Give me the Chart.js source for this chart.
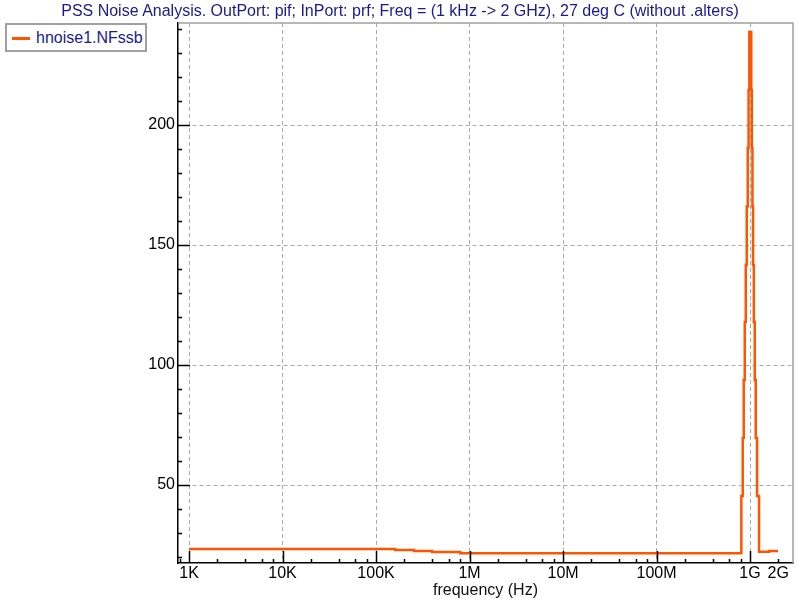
<!DOCTYPE html>
<html>
<head>
<meta charset="utf-8">
<script src="https://cdn.jsdelivr.net/npm/chart.js@4/dist/chart.umd.min.js"></script>
<style>
  body { margin: 0; background: #fff; }
  #wrap { position: relative; width: 800px; height: 600px; font-family: 'Liberation Sans', Arial, sans-serif; }
  #title { position: absolute; left: 0; top: 2px; width: 800px; text-align: center; font-size: 16px; color: #1a1a8c; }
  #legend { position: absolute; left: 5px; top: 23px; width: 138px; height: 25px; border: 2px solid #a0a0a0; background: #fff;
            font-size: 16px; color: #1a1a8c; line-height: 25px; }
  #legend span.swatch { position: absolute; left: 5px; top: 12px; width: 18px; height: 2.5px; background: #ff5500; }
  #legend span.label { position: absolute; left: 29px; top: 0; }
</style>
</head>
<body>
<div id="wrap">
  <canvas id="chart" width="800" height="600"></canvas>
  <div id="title">PSS Noise Analysis. OutPort: pif; InPort: prf; Freq = (1 kHz -&gt; 2 GHz), 27 deg C (without .alters)</div>
  <div id="legend"><span class="swatch"></span><span class="label">hnoise1.NFssb</span></div>
</div>
<script>
// Données (fréquence en Hz, NFssb)
const freqHz = [1e3, 160e3, 255e3, 398e3, 794e3, 807e6, 835e6, 856e6, 878e6, 900e6, 922e6, 945e6, 964e6, 983e6,
  1030e6, 1045e6, 1061e6, 1077e6, 1098e6, 1123e6, 1151e6, 1188e6, 1248e6, 1596e6, 1993e6];
const nfssb = [23.3, 22.9, 22.5, 22.1, 21.6, 45.4, 69.6, 93.8, 117.9, 141.7, 166.0, 190.4, 214.6, 238.8,
  214.6, 190.4, 166.0, 141.7, 117.9, 93.8, 69.6, 45.4, 22.2, 22.5, 22.5];

// Graduations
const xTickValues = [1e3, 1e4, 1e5, 1e6, 1e7, 1e8, 1e9, 2e9];
const xTickLabels = ['1K', '10K', '100K', '1M', '10M', '100M', '1G', '2G'];
const yTickValues = [50, 100, 150, 200];

const xMin = 762, xMax = 2.88e9;
const yMin = 17.5, yMax = 242.5;

Chart.defaults.font.family = "'Liberation Sans', Arial, sans-serif";
Chart.defaults.font.size = 16;
Chart.defaults.color = '#000';

// Cadre gris + graduations tournées vers l'intérieur
const innerTicks = {
  id: 'innerTicks',
  afterDraw(chart) {
    const ctx = chart.ctx;
    const area = chart.chartArea;
    const xs = chart.scales.x;
    const ys = chart.scales.y;
    ctx.save();
    ctx.strokeStyle = '#a0a0a0';
    ctx.lineWidth = 1.5;
    ctx.beginPath();
    ctx.moveTo(area.left, area.top);
    ctx.lineTo(area.right, area.top);
    ctx.lineTo(area.right, area.bottom);
    ctx.stroke();

    ctx.strokeStyle = '#000';
    ctx.lineWidth = 1.5;
    ctx.beginPath();
    // axe x
    for (let d = 2; d <= 9; d++) {
      const decade = Math.pow(10, d);
      [1, 2, 4, 6, 8].forEach(m => {
        const v = decade * m;
        if (v < xMin || v > xMax) return;
        const len = (m === 1) ? 12 : 4;
        const px = Math.round(xs.getPixelForValue(v)) + 0.5;
        ctx.moveTo(px, area.bottom);
        ctx.lineTo(px, area.bottom - len);
      });
    }
    // axe y
    for (let v = 20; v <= 240; v += 10) {
      const len = (v % 50 === 0) ? 12 : 4;
      const py = Math.round(ys.getPixelForValue(v)) + 0.5;
      ctx.moveTo(area.left, py);
      ctx.lineTo(area.left + len, py);
    }
    ctx.stroke();
    ctx.restore();
  }
};

const chart = new Chart(document.getElementById('chart'), {
  type: 'line',
  data: {
    datasets: [{
      label: 'hnoise1.NFssb',
      data: freqHz.map((f, i) => ({ x: f, y: nfssb[i] })),
      borderColor: '#ff5500',
      borderWidth: 2.5,
      pointRadius: 0,
      stepped: true,
      fill: false
    }]
  },
  options: {
    responsive: false,
    animation: false,
    layout: { padding: { top: 23, right: 7, left: 0, bottom: 0 } },
    plugins: {
      legend: { display: false },
      title: { display: false },
      tooltip: { enabled: false }
    },
    scales: {
      x: {
        type: 'logarithmic',
        min: xMin,
        max: xMax,
        afterBuildTicks: scale => { scale.ticks = xTickValues.map(v => ({ value: v })); },
        afterFit: scale => { scale.height = 37; },
        ticks: {
          autoSkip: false,
          maxRotation: 0,
          padding: 1,
          callback: value => {
            const i = xTickValues.indexOf(value);
            return i >= 0 ? xTickLabels[i] : '';
          }
        },
        grid: {
          drawTicks: false,
          color: ctx => (ctx.tick && ctx.tick.value === 2e9) ? 'rgba(0,0,0,0)' : '#aaaaaa',
          lineWidth: 1
        },
        border: { display: true, color: '#000', width: 1.5, dash: [4, 3] },
        title: { display: true, text: 'frequency (Hz)', padding: 0, color: '#111' }
      },
      y: {
        type: 'linear',
        min: yMin,
        max: yMax,
        afterBuildTicks: scale => { scale.ticks = yTickValues.map(v => ({ value: v })); },
        afterFit: scale => { scale.width = 178; },
        ticks: { padding: 3 },
        grid: { drawTicks: false, color: '#aaaaaa', lineWidth: 1 },
        border: { display: true, color: '#000', width: 1.5, dash: [4, 3] }
      }
    }
  },
  plugins: [innerTicks]
});
</script>
</body>
</html>
